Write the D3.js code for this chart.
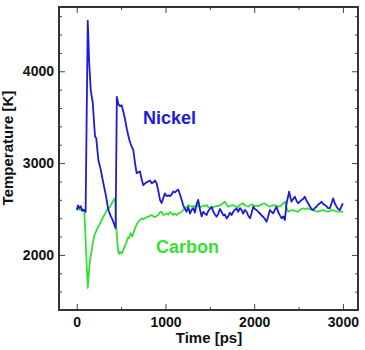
<!DOCTYPE html>
<html>
<head>
<meta charset="utf-8">
<script src="https://cdn.jsdelivr.net/npm/d3@7"></script>
<style>
  body { margin: 0; background: #fff; }
  svg text { font-family: "Liberation Sans", Arial, sans-serif; font-weight: bold; }
</style>
</head>
<body>
<div id="chart"></div>
<script>
// Nickel (blue) temperature trace
const nickelTime = [0, 15, 30, 45, 60, 80, 100, 124, 140, 158, 180, 206, 220, 244, 270, 300, 330, 356, 380, 400, 424, 438,
  452, 470, 488, 506, 525, 544, 563, 581, 600, 619, 638, 657, 675, 694, 713, 732, 750, 769, 788, 806, 825, 845, 863, 882,
  900, 919, 938, 957, 975, 994, 1013, 1032, 1051, 1070, 1088, 1107, 1126, 1144, 1163, 1182, 1200, 1220, 1238, 1257, 1276,
  1295, 1313, 1332, 1351, 1369, 1388, 1407, 1426, 1445, 1464, 1483, 1501, 1520, 1540, 1557, 1577, 1595, 1614, 1633, 1652,
  1670, 1689, 1707, 1726, 1745, 1764, 1782, 1802, 1820, 1840, 1858, 1876, 1895, 1914, 1932, 1953, 1970, 1989, 2008, 2027,
  2045, 2064, 2083, 2102, 2120, 2140, 2158, 2177, 2195, 2214, 2233, 2252, 2270, 2290, 2309, 2328, 2346, 2365, 2394, 2410,
  2421, 2440, 2458, 2477, 2496, 2515, 2534, 2552, 2571, 2590, 2608, 2627, 2646, 2664, 2683, 2702, 2721, 2740, 2759, 2777,
  2796, 2815, 2833, 2852, 2871, 2890, 2909, 2928, 2946, 2965, 2984, 3000];
const nickelTemp = [2490, 2540, 2510, 2530, 2480, 2490, 2470, 4550, 4100, 3790, 3660, 3290, 3270, 3030, 2930, 2780, 2640, 2490, 2430, 2390, 2330, 2290,
  3720, 3640, 3620, 3630, 3560, 3480, 3380, 3300, 3230, 3180, 3140, 3000, 2890, 2900, 2910, 2820, 2760, 2780, 2790, 2800, 2810, 2780, 2790, 2810,
  2780, 2700, 2600, 2565, 2620, 2670, 2640, 2650, 2640, 2660, 2690, 2680, 2700, 2710, 2660, 2600, 2540, 2500, 2470, 2520, 2450,
  2490, 2510, 2460, 2550, 2600, 2500, 2420, 2470, 2450, 2435, 2480, 2500, 2525, 2470, 2440, 2416, 2450, 2500, 2470, 2430,
  2440, 2398, 2420, 2460, 2435, 2470, 2490, 2507, 2470, 2510, 2489, 2450, 2490, 2470, 2430, 2400, 2453, 2525, 2500, 2489,
  2470, 2453, 2430, 2416, 2390, 2362, 2420, 2489, 2470, 2453, 2490, 2525, 2470, 2430, 2398, 2420, 2380, 2562, 2688, 2620,
  2580, 2610, 2634, 2590, 2562, 2580, 2598, 2610, 2634, 2590, 2562, 2530, 2500, 2489, 2510, 2525, 2550, 2560, 2580, 2555,
  2543, 2530, 2510, 2507, 2560, 2616, 2560, 2525, 2500, 2489, 2530, 2562];

// Carbon (green) temperature trace
const carbonTime = [0, 20, 40, 60, 85, 124, 142, 155, 169, 187, 205, 225, 245, 262, 280, 300, 320, 338, 357, 375, 390, 405,
  424, 435, 443, 458, 469, 478, 488, 500, 510, 525, 544, 563, 576, 589, 608, 626, 640, 657, 675, 694, 713, 732, 750, 769,
  788, 806, 825, 845, 863, 882, 900, 919, 938, 957, 975, 994, 1013, 1032, 1051, 1070, 1088, 1107, 1126, 1144, 1163, 1182,
  1200, 1220, 1238, 1257, 1276, 1295, 1313, 1332, 1351, 1369, 1388, 1407, 1426, 1445, 1464, 1483, 1501, 1520, 1540, 1557,
  1577, 1595, 1614, 1633, 1652, 1670, 1689, 1707, 1726, 1745, 1764, 1782, 1802, 1820, 1840, 1858, 1876, 1895, 1914, 1932,
  1951, 1970, 1989, 2008, 2027, 2045, 2064, 2083, 2102, 2120, 2140, 2158, 2177, 2195, 2214, 2233, 2252, 2270, 2290, 2309,
  2328, 2346, 2365, 2383, 2402, 2421, 2440, 2458, 2477, 2496, 2515, 2534, 2552, 2571, 2590, 2608, 2627, 2646, 2664, 2683,
  2702, 2721, 2740, 2759, 2777, 2796, 2815, 2833, 2852, 2871, 2890, 2909, 2928, 2946, 2965, 2984, 3000];
const carbonTemp = [2490, 2500, 2490, 2500, 2490, 1640, 1870, 1980, 2050, 2160, 2230, 2270, 2310, 2340, 2380, 2415, 2450, 2490, 2505, 2525, 2550, 2580,
  2615, 2560, 2340, 2130, 2030, 2010, 2036, 2020, 2018, 2054, 2100, 2145, 2190, 2181, 2236, 2199, 2240, 2290, 2330, 2362, 2380, 2398, 2390, 2398,
  2410, 2416, 2425, 2435, 2420, 2410, 2425, 2435, 2464, 2470, 2435, 2440, 2453, 2440, 2464, 2453, 2435, 2450, 2435, 2450, 2460, 2470,
  2490, 2507, 2520, 2543, 2530, 2525, 2535, 2520, 2543, 2530, 2520, 2525, 2540, 2530, 2543, 2520, 2507, 2515, 2520, 2525,
  2535, 2530, 2543, 2550, 2565, 2580, 2550, 2525, 2535, 2540, 2543, 2530, 2520, 2525, 2545, 2555, 2562, 2540, 2530, 2525,
  2540, 2550, 2543, 2530, 2540, 2530, 2543, 2550, 2555, 2562, 2545, 2535, 2525, 2535, 2540, 2543, 2535, 2530, 2525, 2545,
  2565, 2580, 2510, 2470, 2480, 2485, 2489, 2480, 2475, 2470, 2490, 2500, 2507, 2500, 2505, 2507, 2495, 2490, 2489, 2480,
  2475, 2470, 2480, 2485, 2489, 2480, 2475, 2470, 2480, 2485, 2489, 2480, 2475, 2470, 2475, 2470, 2470];

const xMajor = [0, 1000, 2000, 3000];
const xMinor = [500, 1500, 2500];
const yMajor = [2000, 3000, 4000];
const yMinor = [1400, 1600, 1800, 2200, 2400, 2600, 2800, 3200, 3400, 3600, 3800, 4200, 4400, 4600];

const config = {
  width: 365,
  height: 350,
  margin: { top: 7, right: 7, bottom: 40, left: 59 },
};
const innerW = config.width - config.margin.left - config.margin.right;
const innerH = config.height - config.margin.top - config.margin.bottom;

const svg = d3
  .select("#chart")
  .append("svg")
  .attr("width", config.width)
  .attr("height", config.height)
  .append("g")
  .attr("transform", `translate(${config.margin.left},${config.margin.top})`);

const x = d3.scaleLinear().domain([-200, 3170]).range([0, innerW]);
const y = d3.scaleLinear().domain([1400, 4700]).range([innerH, 0]);

// Axes with inward ticks, mirrored on top and right
svg.append("g")
  .attr("transform", `translate(0,${innerH})`)
  .call(d3.axisBottom(x).tickValues(xMajor).tickSize(-6).tickPadding(7).tickFormat(d3.format("d")))
  .call((g) => g.selectAll("text").style("font-size", "14px").attr("fill", "#111"));
svg.append("g")
  .attr("transform", `translate(0,${innerH})`)
  .call(d3.axisBottom(x).tickValues(xMinor).tickSize(-3).tickFormat(""));
svg.append("g")
  .call(d3.axisTop(x).tickValues(xMajor).tickSize(-6).tickFormat(""));
svg.append("g")
  .call(d3.axisTop(x).tickValues(xMinor).tickSize(-3).tickFormat(""));

svg.append("g")
  .call(d3.axisLeft(y).tickValues(yMajor).tickSize(-6).tickPadding(5).tickFormat(d3.format("d")))
  .call((g) => g.selectAll("text").style("font-size", "14px").attr("fill", "#111"));
svg.append("g")
  .call(d3.axisLeft(y).tickValues(yMinor).tickSize(-3).tickFormat(""));
svg.append("g")
  .attr("transform", `translate(${innerW},0)`)
  .call(d3.axisRight(y).tickValues(yMajor).tickSize(-6).tickFormat(""));
svg.append("g")
  .attr("transform", `translate(${innerW},0)`)
  .call(d3.axisRight(y).tickValues(yMinor).tickSize(-3).tickFormat(""));

svg.selectAll(".domain").remove();
svg.selectAll(".tick line").attr("stroke", "#444").attr("stroke-width", 1);

// Lines
const line = d3.line().x((d) => x(d[0])).y((d) => y(d[1]));

svg.append("path")
  .datum(d3.zip(carbonTime, carbonTemp))
  .attr("fill", "none")
  .attr("stroke", "#35e035")
  .attr("stroke-width", 1.8)
  .attr("stroke-linejoin", "round")
  .attr("d", line);

svg.append("path")
  .datum(d3.zip(nickelTime, nickelTemp))
  .attr("fill", "none")
  .attr("stroke", "#1c1cd8")
  .attr("stroke-width", 1.8)
  .attr("stroke-linejoin", "round")
  .attr("d", line);

// Frame
svg.append("rect")
  .attr("width", innerW)
  .attr("height", innerH)
  .attr("fill", "none")
  .attr("stroke", "#333")
  .attr("stroke-width", 2);

// Series labels
svg.append("text")
  .attr("x", 143 - config.margin.left)
  .attr("y", 124 - config.margin.top)
  .style("font-size", "18px")
  .attr("fill", "#1c1cd8")
  .text("Nickel");

svg.append("text")
  .attr("x", 156 - config.margin.left)
  .attr("y", 253 - config.margin.top)
  .style("font-size", "18px")
  .attr("fill", "#35e035")
  .text("Carbon");

// Axis labels
svg.append("text")
  .attr("x", 209 - config.margin.left)
  .attr("y", 343 - config.margin.top)
  .style("text-anchor", "middle")
  .style("font-size", "15px")
  .attr("fill", "#111")
  .text("Time [ps]");

svg.append("text")
  .attr("transform", "rotate(-90)")
  .attr("x", -(148 - config.margin.top))
  .attr("y", 13 - config.margin.left)
  .style("text-anchor", "middle")
  .style("font-size", "15px")
  .attr("fill", "#111")
  .text("Temperature [K]");
</script>
</body>
</html>
